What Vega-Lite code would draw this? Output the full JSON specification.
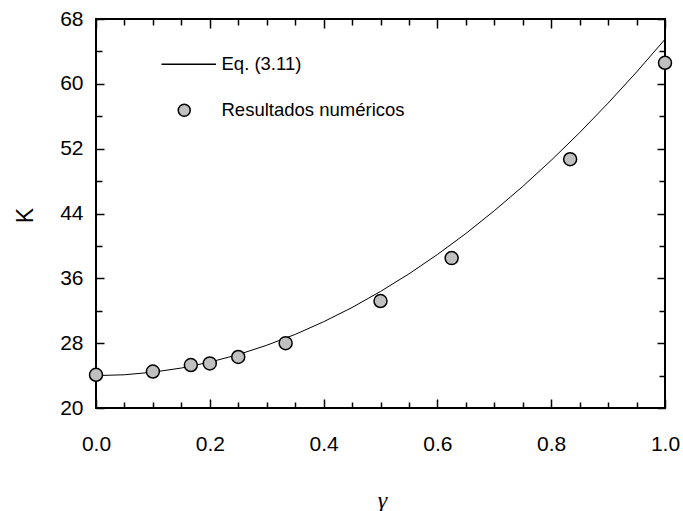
{
  "$schema": "https://vega.github.io/schema/vega-lite/v6.json",
  "width": 569,
  "height": 389,
  "autosize": "none",
  "padding": {"left": 96, "top": 19, "right": 18, "bottom": 103},
  "background": "white",
  "config": {
    "view": {"stroke": "black", "strokeWidth": 2},
    "axis": {
      "domain": false,
      "grid": false,
      "tickColor": "black",
      "tickWidth": 1.5,
      "labelFont": "Liberation Sans",
      "labelFontSize": 21,
      "labelColor": "black",
      "labelFlush": false,
      "labelOverlap": false,
      "titleColor": "black",
      "titleFontWeight": "normal"
    }
  },
  "datasets": {
    "curve": [
      {"g": 0.0, "K": 24.0},
      {"g": 0.05, "K": 24.1},
      {"g": 0.1, "K": 24.42},
      {"g": 0.15, "K": 24.93},
      {"g": 0.2, "K": 25.66},
      {"g": 0.25, "K": 26.59},
      {"g": 0.3, "K": 27.74},
      {"g": 0.35, "K": 29.08},
      {"g": 0.4, "K": 30.64},
      {"g": 0.45, "K": 32.4},
      {"g": 0.5, "K": 34.38},
      {"g": 0.55, "K": 36.55},
      {"g": 0.6, "K": 38.94},
      {"g": 0.65, "K": 41.53},
      {"g": 0.7, "K": 44.34},
      {"g": 0.75, "K": 47.34},
      {"g": 0.8, "K": 50.56},
      {"g": 0.85, "K": 53.98},
      {"g": 0.9, "K": 57.62},
      {"g": 0.95, "K": 61.45},
      {"g": 1.0, "K": 65.5}
    ],
    "points": [
      {"g": 0.0, "K": 24.1, "series": "Resultados numéricos"},
      {"g": 0.1, "K": 24.5, "series": "Resultados numéricos"},
      {"g": 0.1667, "K": 25.3, "series": "Resultados numéricos"},
      {"g": 0.2, "K": 25.5, "series": "Resultados numéricos"},
      {"g": 0.25, "K": 26.3, "series": "Resultados numéricos"},
      {"g": 0.3333, "K": 28.0, "series": "Resultados numéricos"},
      {"g": 0.5, "K": 33.2, "series": "Resultados numéricos"},
      {"g": 0.625, "K": 38.5, "series": "Resultados numéricos"},
      {"g": 0.8333, "K": 50.7, "series": "Resultados numéricos"},
      {"g": 1.0, "K": 62.6, "series": "Resultados numéricos"}
    ]
  },
  "resolve": {"axis": {"x": "independent", "y": "independent"}},
  "layer": [
    {
      "data": {"name": "curve"},
      "mark": {"type": "line", "color": "black", "strokeWidth": 1, "clip": true},
      "encoding": {
        "x": {
          "field": "g", "type": "quantitative",
          "scale": {"domain": [0, 1], "nice": false, "zero": false},
          "axis": {
            "orient": "bottom",
            "values": [0, 0.05, 0.1, 0.15, 0.2, 0.25, 0.3, 0.35, 0.4, 0.45, 0.5, 0.55, 0.6, 0.65, 0.7, 0.75, 0.8, 0.85, 0.9, 0.95, 1.0],
            "tickSize": {"condition": {"test": "round(datum.value*20) % 4 == 0", "value": -9}, "value": -6},
            "labelExpr": "round(datum.value*20) % 4 == 0 ? format(datum.value, '.1f') : ''",
            "labelPadding": 34,
            "title": "γ",
            "titleFont": "Liberation Serif",
            "titleFontStyle": "italic",
            "titleFontSize": 24,
            "titleX": 286,
            "titleY": 99,
            "titleAlign": "center",
            "titleBaseline": "alphabetic"
          }
        },
        "y": {
          "field": "K", "type": "quantitative",
          "scale": {"domain": [20, 68], "nice": false, "zero": false},
          "axis": {
            "orient": "left",
            "values": [20, 24, 28, 32, 36, 40, 44, 48, 52, 56, 60, 64, 68],
            "tickSize": {"condition": {"test": "(datum.value - 20) % 8 == 0", "value": -8}, "value": -6},
            "labelExpr": "(datum.value - 20) % 8 == 0 ? datum.label : ''",
            "labelPadding": 21,
            "title": "K",
            "titleFont": "Liberation Sans",
            "titleFontSize": 23,
            "titleAngle": -90,
            "titleX": -64,
            "titleY": 196,
            "titleAlign": "center",
            "titleBaseline": "alphabetic"
          }
        }
      }
    },
    {
      "data": {"name": "points"},
      "mark": {"type": "point", "filled": true, "fill": "#c0c0c0", "strokeWidth": 1.5, "opacity": 1, "size": 169},
      "encoding": {
        "x": {"field": "g", "type": "quantitative", "axis": null},
        "y": {"field": "K", "type": "quantitative", "axis": null},
        "stroke": {
          "field": "series", "type": "nominal",
          "scale": {"domain": ["Eq. (3.11)", "Resultados numéricos"], "range": ["black", "black"]},
          "legend": {
            "orient": "none",
            "legendX": 79,
            "legendY": 36,
            "title": null,
            "padding": 0,
            "symbolSize": 144,
            "symbolFillColor": "#c0c0c0",
            "symbolStrokeWidth": 1.5,
            "labelFont": "Liberation Sans",
            "labelFontSize": 18.5,
            "labelColor": "black",
            "labelLimit": 0,
            "labelOffset": 28,
            "rowPadding": 27,
            "encode": {"symbols": {
              "strokeWidth": {"condition": {"test": "datum.value == 'Eq. (3.11)'", "value": 1}, "value": 1.5}
            }}
          }
        },
        "shape": {
          "field": "series", "type": "nominal",
          "scale": {"domain": ["Eq. (3.11)", "Resultados numéricos"], "range": ["M-3.8,0H5.3", "circle"]},
          "legend": {
            "orient": "none",
            "legendX": 79,
            "legendY": 36,
            "title": null,
            "padding": 0,
            "symbolSize": 144,
            "symbolFillColor": "#c0c0c0",
            "symbolStrokeWidth": 1.5,
            "labelFont": "Liberation Sans",
            "labelFontSize": 18.5,
            "labelColor": "black",
            "labelLimit": 0,
            "labelOffset": 28,
            "rowPadding": 27,
            "encode": {"symbols": {
              "strokeWidth": {"condition": {"test": "datum.value == 'Eq. (3.11)'", "value": 1}, "value": 1.5}
            }}
          }
        }
      }
    },
    {
      "data": {"name": "curve"},
      "mark": {"type": "line", "opacity": 0},
      "encoding": {
        "x": {
          "field": "g", "type": "quantitative",
          "axis": {
            "orient": "top",
            "values": [0, 0.05, 0.1, 0.15, 0.2, 0.25, 0.3, 0.35, 0.4, 0.45, 0.5, 0.55, 0.6, 0.65, 0.7, 0.75, 0.8, 0.85, 0.9, 0.95, 1.0],
            "tickSize": {"condition": {"test": "round(datum.value*20) % 4 == 0", "value": -9}, "value": -6},
            "labels": false,
            "title": null
          }
        },
        "y": {
          "field": "K", "type": "quantitative",
          "axis": {
            "orient": "right",
            "values": [20, 24, 28, 32, 36, 40, 44, 48, 52, 56, 60, 64, 68],
            "tickSize": {"condition": {"test": "(datum.value - 20) % 8 == 0", "value": -8}, "value": -6},
            "labels": false,
            "title": null
          }
        }
      }
    }
  ]
}
